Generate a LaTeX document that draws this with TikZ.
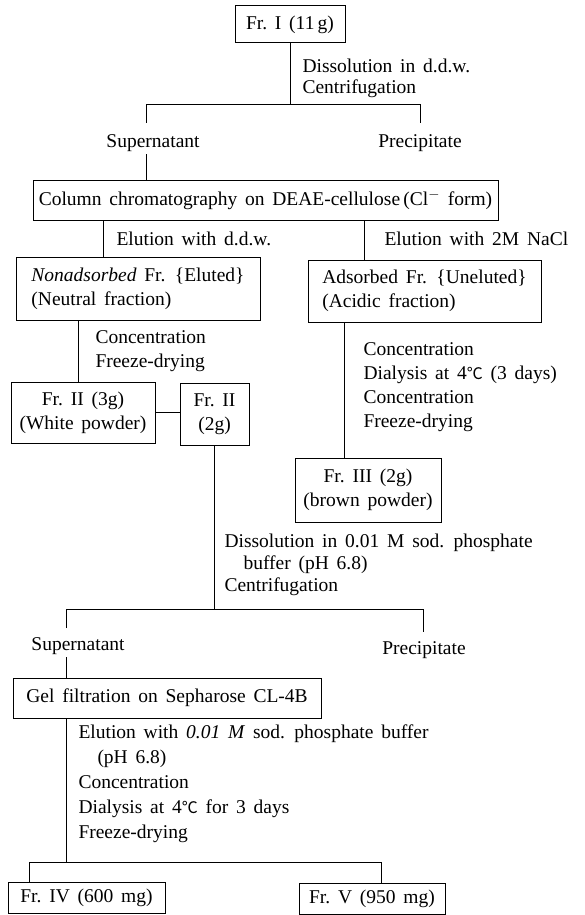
\documentclass[tikz,border=0pt]{standalone}
\usepackage{fontspec}
\setmainfont[WordSpace=1.6]{Liberation Serif}
\newfontfamily\cjk{Noto Sans CJK JP}
\newcommand{\degC}{{\cjk\fontsize{16}{20}\selectfont ℃}}
\begin{document}
\begin{tikzpicture}[x=1pt,y=-1pt,line width=1pt,
        font=\fontsize{19.5}{24}\selectfont,
        box/.style={draw,inner sep=0pt,align=center},
        steps/.style={anchor=west,align=left,inner sep=0pt},
        word/.style={inner sep=2pt}]
        \useasboundingbox (0,0) rectangle (585,915);

        % Cajas
        \node[box,minimum width=110,minimum height=37] (fr1) at (290,24.5) {Fr.\ I (11\,g)};
        \node[box,minimum width=465,minimum height=40] (col) at (265.5,200) {Column chromatography on DEAE-cellulose\,(Cl$^-$ form)};
        \node[box,align=left,minimum width=244,minimum height=63] (non) at (138,288.5) {\textit{Nonadsorbed} Fr. \{Eluted\}\\(Neutral fraction)};
        \node[box,align=left,minimum width=233,minimum height=62] (ads) at (424.5,291) {Adsorbed Fr. \{Uneluted\}\\(Acidic fraction)};
        \node[box,minimum width=144,minimum height=61] (fr2a) at (83,412.5) {Fr.\ II (3g)\\(White powder)};
        \node[box,minimum width=69,minimum height=62] (fr2b) at (214.5,414) {Fr.\ II\\(2g)};
        \node[box,minimum width=146,minimum height=64] (fr3) at (368,490) {Fr.\ III (2g)\\(brown powder)};
        \node[box,minimum width=308,minimum height=40] (gel) at (167,698) {Gel filtration on Sepharose CL-4B};
        \node[box,minimum width=157,minimum height=31] (fr4) at (86.5,897.5) {Fr.\ IV (600 mg)};
        \node[box,minimum width=146,minimum height=31] (fr5) at (372,898.5) {Fr.\ V (950 mg)};

        % Fracciones
        \node[word] (sup1) at (153,143) {Supernatant};
        \node[word] (pre1) at (420,143) {Precipitate};
        \node[word] (sup2) at (78,646) {Supernatant};
        \node[word] (pre2) at (424,650) {Precipitate};

        % Pasos
        \node[steps] (st1) at (302,78) {Dissolution in d.d.w.\\[-3pt]Centrifugation};
        \node[steps] (el1) at (116,239) {Elution with d.d.w.};
        \node[steps] (el2) at (384,239) {Elution with 2M NaCl};
        \node[steps] (st2) at (95,351) {Concentration\\Freeze-drying};
        \node[steps] (st3) at (363,387.5) {Concentration\\Dialysis at 4\degC\ (3 days)\\Concentration\\Freeze-drying};
        \node[steps] (st4) at (224,565) {Dissolution in 0.01 M sod. phosphate\\[-2pt]\hspace*{19pt}buffer (pH 6.8)\\[-2pt]Centrifugation};
        \node[steps] (st5) at (78,784) {Elution with \textit{0.01 M} sod. phosphate buffer\\[1pt]\hspace*{19pt}(pH 6.8)\\[1pt]Concentration\\[1pt]Dialysis at 4\degC\ for 3 days\\[1pt]Freeze-drying};

        % Lineas
        \coordinate (b1l) at (146,105);
        \coordinate (b1r) at (420,105);
        \draw (fr1.south) -- (fr1.south |- b1l);
        \draw (b1l) ++(0,18) -- (b1l) -- (b1r) -- ++(0,18);
        \draw (b1l |- sup1.south) -- (b1l |- col.north);
        \draw ([xshift=-35pt]non.north) -- ([xshift=-35pt]non.north |- col.south);
        \draw ([xshift=-60.5pt]ads.north) -- ([xshift=-60.5pt]ads.north |- col.south);
        \draw ([xshift=-60pt]non.south) -- ([xshift=-60pt]non.south |- fr2a.north);
        \draw (fr2a.east) -- (fr2a.east -| fr2b.west);
        \draw ([xshift=-80.5pt]ads.south) -- ([xshift=-80.5pt]ads.south |- fr3.north);

        \coordinate (b2l) at (66,609);
        \coordinate (b2r) at (423,609);
        \draw (fr2b.south) -- (fr2b.south |- b2l);
        \draw (b2l) ++(0,19) -- (b2l) -- (b2r) -- ++(0,23);
        \draw (b2l |- sup2.south) -- (b2l |- gel.north);

        \coordinate (b3l) at (29,862);
        \coordinate (b3r) at (381,862);
        \draw (b2l |- gel.south) -- (b2l |- b3l);
        \draw (b3l |- fr4.north) -- (b3l) -- (b3r) -- (b3r |- fr5.north);
\end{tikzpicture}
\end{document}
